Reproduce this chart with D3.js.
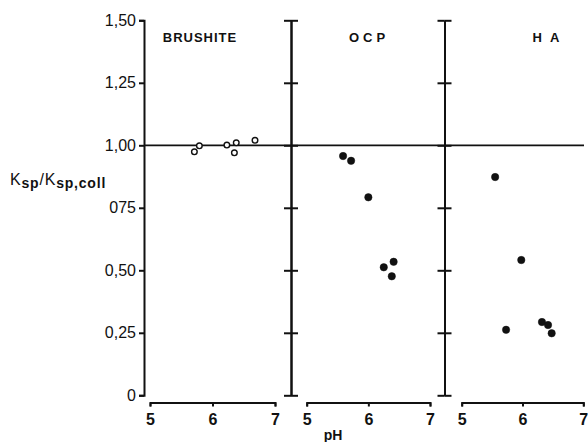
<!DOCTYPE html>
<html>
<head>
<meta charset="utf-8">
<script src="https://cdn.jsdelivr.net/npm/d3@7"></script>
<style>
  html, body { margin: 0; padding: 0; background: #fff; }
  svg { display: block; }
</style>
</head>
<body>
<svg id="chart"></svg>
<script>
// Ksp / Ksp,coll against pH for three phases
const panelNames = ['BRUSHITE', 'OCP', 'HA'];
const brushitePH = [5.71, 5.79, 6.23, 6.38, 6.35, 6.68];
const brushiteK = [0.974, 0.998, 1.001, 1.010, 0.970, 1.020];
const ocpPH = [5.59, 5.72, 6.00, 6.25, 6.41, 6.38];
const ocpK = [0.957, 0.938, 0.792, 0.512, 0.534, 0.476];
const haPH = [5.55, 5.98, 5.73, 6.32, 6.42, 6.48];
const haK = [0.873, 0.541, 0.262, 0.293, 0.281, 0.248];
const yTicks = [0, 0.25, 0.5, 0.75, 1.0, 1.25, 1.5];
const yTickLabels = ['0', '0,25', '0,50', '075', '1,00', '1,25', '1,50'];
const xTicks = [5, 6, 7];

const width = 588, height = 442;
const font = 'Helvetica, "Liberation Sans", Arial, sans-serif';

const svg = d3.select('#chart')
    .attr('width', width)
    .attr('height', height);

const y = d3.scaleLinear().domain([0, 1.5]).range([395.3, 20.3]);

// one x scale for each panel
const panels = [
    {name: panelNames[0], ph: brushitePH, k: brushiteK, open: true, left: 150, right: 275, axisX: 144, labelX: 200, spacing: 1},
    {name: panelNames[1], ph: ocpPH, k: ocpK, open: false, left: 306.7, right: 430, axisX: 291, labelX: 369, spacing: 4},
    {name: panelNames[2], ph: haPH, k: haK, open: false, left: 461.7, right: 583.3, axisX: 444.5, labelX: 550, spacing: 8}
];
panels.forEach(p => {
    p.x = d3.scaleLinear().domain([5, 7]).range([p.left, p.right]);
});

function styleAxis(g) {
    g.select('.domain').attr('stroke', '#111').attr('stroke-width', 2);
    g.selectAll('.tick line').attr('stroke', '#111').attr('stroke-width', 2);
    g.selectAll('.tick text')
        .attr('fill', '#111')
        .attr('font-family', font)
        .attr('font-size', '16px');
}

// left y axis with labels
const yAxisLeft = svg.append('g')
    .attr('transform', `translate(${panels[0].axisX}, 0)`)
    .call(d3.axisLeft(y)
        .tickValues(yTicks)
        .tickSize(5)
        .tickPadding(3)
        .tickFormat((d, i) => yTickLabels[i]));
styleAxis(yAxisLeft);

// inner y axes: vertical lines with cross ticks
panels.slice(1).forEach(p => {
    const gl = svg.append('g')
        .attr('transform', `translate(${p.axisX}, 0)`)
        .call(d3.axisLeft(y).tickValues(yTicks).tickSize(7).tickSizeOuter(0).tickFormat(''));
    styleAxis(gl);
    const gr = svg.append('g')
        .attr('transform', `translate(${p.axisX}, 0)`)
        .call(d3.axisRight(y).tickValues(yTicks).tickSize(7).tickSizeOuter(0).tickFormat(''));
    styleAxis(gr);
});

// reference line at Ksp/Ksp,coll = 1
svg.append('line')
    .attr('x1', panels[0].axisX)
    .attr('x2', 584)
    .attr('y1', y(1))
    .attr('y2', y(1))
    .attr('stroke', '#111')
    .attr('stroke-width', 1.8);

// bottom pH axes
panels.forEach(p => {
    const gx = svg.append('g')
        .attr('transform', 'translate(0, 402.5)')
        .call(d3.axisBottom(p.x).tickValues(xTicks).tickFormat(d3.format('d'))
            .tickSize(4).tickSizeOuter(4).tickPadding(7));
    styleAxis(gx);
    gx.selectAll('.tick text').attr('font-weight', 'bold');
    gx.select('.domain').attr('stroke-width', 1.8);
});

// panel titles
panels.forEach(p => {
    svg.append('text')
        .attr('x', p.labelX)
        .attr('y', 42)
        .attr('text-anchor', 'middle')
        .attr('font-family', font)
        .attr('font-size', '13px')
        .attr('font-weight', 'bold')
        .attr('letter-spacing', `${p.spacing}px`)
        .attr('fill', '#111')
        .text(p.name);
});

// data points
panels.forEach(p => {
    svg.append('g')
        .selectAll('circle')
        .data(p.ph.map((d, i) => ({ph: d, k: p.k[i]})))
        .join('circle')
        .attr('cx', d => p.x(d.ph))
        .attr('cy', d => y(d.k))
        .attr('r', p.open ? 2.8 : 3.7)
        .attr('fill', p.open ? '#fff' : '#111')
        .attr('stroke', '#111')
        .attr('stroke-width', p.open ? 1.4 : 0.5);
});

// y axis label: K_sp / K_sp,coll
const yLabel = svg.append('text')
    .attr('x', 10)
    .attr('y', 185)
    .attr('font-family', font)
    .attr('font-size', '16px')
    .attr('letter-spacing', '0.8px')
    .attr('fill', '#111');
yLabel.append('tspan').text('K');
yLabel.append('tspan').attr('font-size', '14px').attr('dy', '3').attr('font-weight', 'bold').text('sp');
yLabel.append('tspan').attr('dy', '-3').text('/K');
yLabel.append('tspan').attr('font-size', '14px').attr('dy', '3').attr('font-weight', 'bold').text('sp,coll');

// x axis label
svg.append('text')
    .attr('x', 333)
    .attr('y', 440)
    .attr('text-anchor', 'middle')
    .attr('font-family', font)
    .attr('font-size', '14px')
    .attr('font-weight', 'bold')
    .attr('fill', '#111')
    .text('pH');
</script>
</body>
</html>
